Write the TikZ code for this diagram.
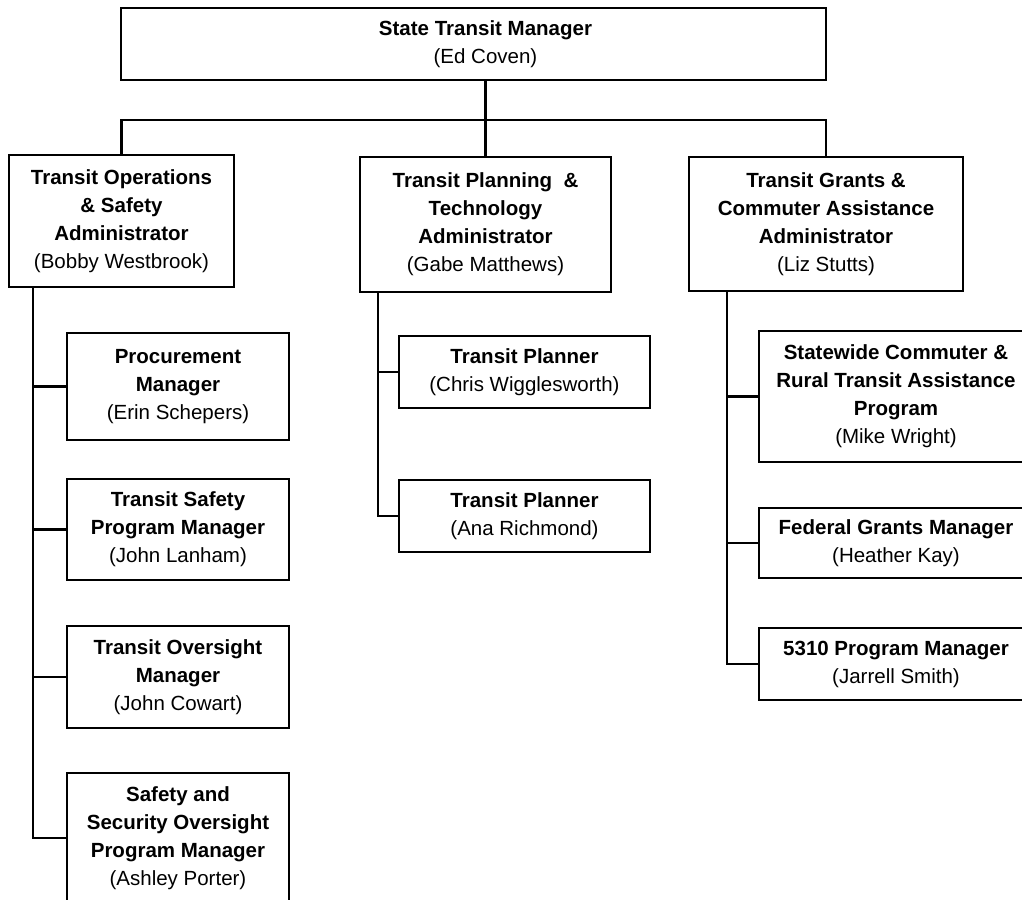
\documentclass[tikz,border=0pt]{standalone}
\usepackage{fontspec}
\setmainfont{Liberation Sans}
\usetikzlibrary{positioning}
\tikzset{
post box/.style = {
             draw,
             line width=2pt,
             fill=white,
             align=center,
             inner sep=2pt,
             font=\fontsize{20.5}{28}\selectfont\bfseries
   },
branch/.style = {
     line width=2.6pt
     }
}
\def\Post#1#2{#1\\{\mdseries(#2)}}

\begin{document}
\begin{tikzpicture}[x=1pt,y=-1pt]
\useasboundingbox (0,0) rectangle (1022,899);
\clip (0,0) rectangle (1022,899);
% top of the chart
\node[post box, minimum width=705pt, minimum height=72pt] (manager) at (473.5,44) {\hspace*{24pt}State Transit Manager\\\hspace*{24pt}{\mdseries(Ed Coven)}};
\node[post box, minimum width=225pt, minimum height=132pt] (ops) at (121.5,221) {\Post{Transit Operations\\\& Safety\\Administrator}{Bobby Westbrook}};
\node[post box, minimum width=251pt, minimum height=135pt] (plan) at (485.5,224.5) {\Post{Transit Planning \ \&\\Technology\\Administrator}{Gabe Matthews}};
\node[post box, minimum width=274pt, minimum height=134pt] (grants) at (826,224) {\Post{Transit Grants \&\\Commuter Assistance\\Administrator}{Liz Stutts}};
\coordinate (bus) at (485,120);
\draw[branch] (ops.north) |- (bus) -| (grants.north);
\draw[branch] (manager.south -| plan.north) -- (plan.north);
% spines under the administrators
\coordinate (ops spine) at ([xshift=-88.5pt]ops.south);
\coordinate (plan spine) at ([xshift=-107.5pt]plan.south);
\coordinate (grants spine) at ([xshift=-99pt]grants.south);
\foreach \name/\ypos/\boxh/\title/\who in {
  proc/386.5/107/{Procurement\\Manager}/{Erin Schepers},
  tsafe/529.5/101/{Transit Safety\\Program Manager}/{John Lanham},
  tover/677/102/{Transit Oversight\\Manager}/{John Cowart},
  ssop/838/130/{Safety and\\Security Oversight\\Program Manager}/{Ashley Porter}} {
   \node[post box, minimum width=222pt, minimum height=\boxh pt] (\name) at (178,\ypos) {\Post{\title}{\who}};
   \draw[branch] (ops spine) |- (\name.west);
}
\foreach \name/\ypos/\who in {planner1/372/{Chris Wigglesworth}, planner2/516/{Ana Richmond}} {
   \node[post box, minimum width=251pt, minimum height=72pt] (\name) at (524.5,\ypos) {\Post{Transit Planner}{\who}};
   \draw[branch] (plan spine) |- (\name.west);
}
\foreach \name/\ypos/\boxh/\title/\who in {
  statewide/396.5/131/{Statewide Commuter \&\\Rural Transit Assistance\\Program}/{Mike Wright},
  federal/543/70/{Federal Grants Manager}/{Heather Kay},
  fivethree/664/72/{5310 Program Manager}/{Jarrell Smith}} {
   \node[post box, minimum width=274pt, minimum height=\boxh pt] (\name) at (896,\ypos) {\Post{\title}{\who}};
   \draw[branch] (grants spine) |- (\name.west);
}
\end{tikzpicture}
\end{document}
